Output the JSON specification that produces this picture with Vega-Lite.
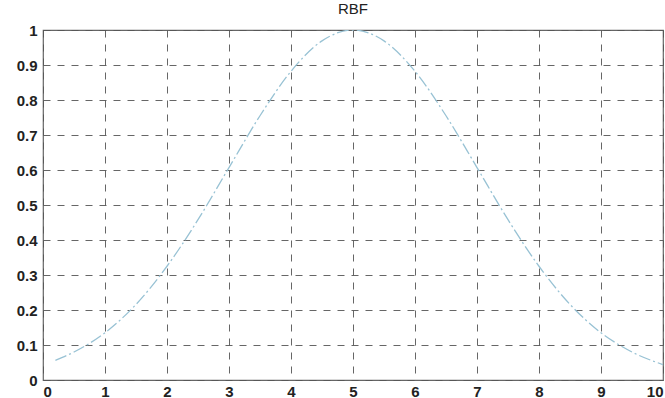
{
  "$schema": "https://vega.github.io/schema/vega-lite/v6.json",
  "width": 620,
  "height": 350,
  "autosize": {"type": "none"},
  "padding": {"left": 43, "top": 30, "right": 2, "bottom": 18},
  "background": "white",
  "title": {"text": "RBF", "font": "Liberation Sans", "fontSize": 15, "fontWeight": "normal", "color": "#222", "offset": 6},
  "config": {
    "view": {"stroke": "#666", "strokeWidth": 1.2},
    "axis": {
      "labelFont": "Liberation Sans",
      "labelFontSize": 15,
      "labelColor": "#222",
      "ticks": false,
      "domain": false,
      "grid": true,
      "gridColor": "#555",
      "gridDash": [7, 7],
      "gridWidth": 1,
      "gridOpacity": 0.9,
      "title": null
    }
  },
  "data": {
    "values": [
      {"x": 0.2, "y": 0.056},
      {"x": 0.5, "y": 0.080},
      {"x": 1.0, "y": 0.135},
      {"x": 1.5, "y": 0.216},
      {"x": 2.0, "y": 0.325},
      {"x": 2.5, "y": 0.458},
      {"x": 3.0, "y": 0.607},
      {"x": 3.5, "y": 0.755},
      {"x": 4.0, "y": 0.882},
      {"x": 4.5, "y": 0.969},
      {"x": 5.0, "y": 1.0},
      {"x": 5.5, "y": 0.969},
      {"x": 6.0, "y": 0.882},
      {"x": 6.5, "y": 0.755},
      {"x": 7.0, "y": 0.607},
      {"x": 7.5, "y": 0.458},
      {"x": 8.0, "y": 0.325},
      {"x": 8.5, "y": 0.216},
      {"x": 9.0, "y": 0.135},
      {"x": 9.5, "y": 0.080},
      {"x": 10.0, "y": 0.044}
    ]
  },
  "mark": {"type": "line", "color": "#98c2d4", "strokeWidth": 1.3, "strokeDash": [12, 3, 2, 3], "interpolate": "monotone", "clip": true},
  "encoding": {
    "x": {"field": "x", "type": "quantitative", "scale": {"domain": [0, 10], "nice": false},
      "axis": {"values": [0,1,2,3,4,5,6,7,8,9,10], "format": "d", "labelPadding": 4, "labelFontWeight": "bold"}},
    "y": {"field": "y", "type": "quantitative", "scale": {"domain": [0, 1], "nice": false},
      "axis": {"values": [0,0.1,0.2,0.3,0.4,0.5,0.6,0.7,0.8,0.9,1], "format": "~g", "labelPadding": 6, "labelFontWeight": "bold"}}
  }
}
